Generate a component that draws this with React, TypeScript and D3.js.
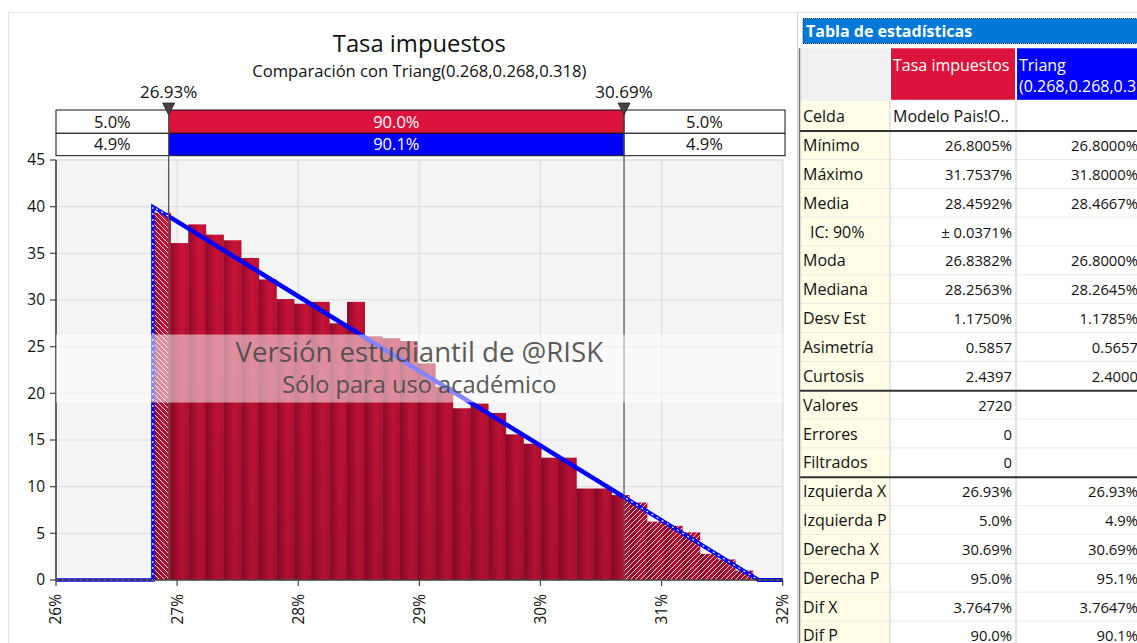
import React from 'react';
import * as d3 from 'd3';

// ---------- data ----------
const binValues = [
  39.35, 36.1, 38.1, 37.0, 36.4, 34.5, 32.2, 30.1, 29.6, 29.8, 27.5, 29.8,
  26.1, 25.9, 25.6, 23.2, 20.7, 18.4, 18.9, 17.9, 15.6, 14.6, 13.1, 13.1,
  9.8, 9.8, 9.1, 8.3, 6.25, 5.8, 5.1, 2.8, 2.2, 1.0,
];
const binMin = 0.268005;
const binMax = 0.317537;
const xTicks = [0.26, 0.27, 0.28, 0.29, 0.3, 0.31, 0.32];
const yTicks = [0, 5, 10, 15, 20, 25, 30, 35, 40, 45];
const fitLine: [number, number][] = [
  [0.26, 0], [0.268, 0], [0.268, 40], [0.318, 0], [0.32, 0],
];
const delimiters = [0.2693, 0.3069];
const delimiterLabels = ['26.93%', '30.69%'];
const simBand = ['5.0%', '90.0%', '5.0%'];
const fitBand = ['4.9%', '90.1%', '4.9%'];

const statLabels = [
  'Celda', 'Mínimo', 'Máximo', 'Media', 'IC: 90%', 'Moda', 'Mediana', 'Desv Est',
  'Asimetría', 'Curtosis', 'Valores', 'Errores', 'Filtrados', 'Izquierda X',
  'Izquierda P', 'Derecha X', 'Derecha P', 'Dif X', 'Dif P',
];
const simValues = [
  'Modelo Pais!O..', '26.8005%', '31.7537%', '28.4592%', '± 0.0371%', '26.8382%',
  '28.2563%', '1.1750%', '0.5857', '2.4397', '2720', '0', '0', '26.93%', '5.0%',
  '30.69%', '95.0%', '3.7647%', '90.0%',
];
const fitValues = [
  '', '26.8000%', '31.8000%', '28.4667%', '', '26.8000%', '28.2645%', '1.1785%',
  '0.5657', '2.4000', '', '', '', '26.93%', '4.9%', '30.69%', '95.1%', '3.7647%',
  '90.1%',
];
const groupBreaks = [0, 9, 12];

// ---------- layout ----------
const FONT = "'Segoe UI', 'Open Sans', sans-serif";
const W = 1137;
const H = 643;
const PL = 56;
const PR = 782.7;
const PT = 160;
const PB = 580;

export default function App() {
  const x = d3.scaleLinear().domain([0.26, 0.32]).range([PL, PR]);
  const y = d3.scaleLinear().domain([0, 45]).range([PB, PT]);
  const binW = (binMax - binMin) / binValues.length;
  const bins = binValues.map((v, i) => ({
    x0: binMin + i * binW,
    x1: binMin + (i + 1) * binW,
    v,
  }));
  const line = d3
    .line<[number, number]>()
    .x((d) => x(d[0]))
    .y((d) => y(d[1]));
  const linePath = line(fitLine) || '';
  const dl = x(delimiters[0]);
  const dr = x(delimiters[1]);

  // table geometry
  const c0 = 800, c1 = 890, c2 = 1016, c3 = 1141;
  const headTop = 48.3, headBot = 100.8;
  const celdaBot = 131;
  const rowH = 28.85;
  const rowTop = (i: number) => (i === 0 ? headBot : celdaBot + (i - 1) * rowH);
  const rowBot = (i: number) => (i === 0 ? celdaBot : celdaBot + i * rowH);

  const bandY0 = 110, bandY1 = 133.3, bandY2 = 155.7;
  const bandRight = 785;

  return (
    <div style={{ position: 'absolute', left: 0, top: 0 }}>
      <svg width={W} height={H} style={{ display: 'block', fontFamily: FONT }}>
        <defs>
          <linearGradient id="barGrad" x1="0" y1="0" x2="1" y2="0">
            <stop offset="0" stopColor="#980a2b" />
            <stop offset="0.6" stopColor="#d2143b" />
            <stop offset="1" stopColor="#c01032" />
          </linearGradient>
          <linearGradient id="shade" gradientUnits="userSpaceOnUse" x1="0" y1={PT} x2="0" y2={PB}>
            <stop offset="0" stopColor="#000" stopOpacity="0" />
            <stop offset="1" stopColor="#000" stopOpacity="0.16" />
          </linearGradient>
          <pattern id="hatchL" width="5" height="5" patternUnits="userSpaceOnUse">
            <path d="M-1,-1 L6,6 M-1,4 L1,6 M4,-1 L6,1" stroke="#fff" strokeWidth="1" opacity="0.85" />
          </pattern>
          <pattern id="hatchR" width="5" height="5" patternUnits="userSpaceOnUse">
            <path d="M-1,6 L6,-1 M-1,1 L1,-1 M4,6 L6,4" stroke="#fff" strokeWidth="1" opacity="0.85" />
          </pattern>
          <clipPath id="clipL">
            <rect x={PL} y={PT - 10} width={dl - PL} height={PB - PT + 12} />
          </clipPath>
          <clipPath id="clipR">
            <rect x={dr} y={PT - 10} width={PR + 10 - dr} height={PB - PT + 12} />
          </clipPath>
          <clipPath id="clipMid">
            <rect x={dl} y={PT - 10} width={dr - dl} height={PB - PT + 12} />
          </clipPath>
          <clipPath id="clipTable">
            <rect x={0} y={0} width={W} height={H} />
          </clipPath>
        </defs>

        <rect x={0} y={0} width={W} height={H} fill="#fff" />
        {/* panel borders */}
        <line x1={8.5} y1={12} x2={8.5} y2={H} stroke="#e6e6e6" />
        <line x1={8} y1={12.5} x2={797} y2={12.5} stroke="#e6e6e6" />
        <line x1={797.5} y1={12} x2={797.5} y2={H} stroke="#d4d4d4" />
        <line x1={797} y1={12.5} x2={W} y2={12.5} stroke="#e0e0e0" />

        {/* titles */}
        <text x={(PL + PR) / 2} y={52} textAnchor="middle" fontSize={23.8} fill="#111">
          Tasa impuestos
        </text>
        <text x={(PL + PR) / 2} y={77} textAnchor="middle" fontSize={16.6} fill="#111">
          Comparación con Triang(0.268,0.268,0.318)
        </text>

        {/* plot background and grid */}
        <rect x={PL} y={PT} width={PR - PL} height={PB - PT} fill="#f4f4f4" stroke="#d8d8d8" />
        {yTicks.map((t) => (
          <line key={'gy' + t} x1={PL} x2={PR} y1={y(t)} y2={y(t)} stroke="#dedede" strokeWidth={1.2} />
        ))}
        {xTicks.map((t) => (
          <line key={'gx' + t} x1={x(t)} x2={x(t)} y1={PT} y2={PB} stroke="#dedede" strokeWidth={1.2} />
        ))}

        {/* bars */}
        <g>
          {bins.map((b, i) => (
            <rect key={'b' + i} x={x(b.x0)} y={y(b.v)} width={x(b.x1) - x(b.x0) + 0.3}
              height={y(0) - y(b.v)} fill="url(#barGrad)" />
          ))}
          {bins.map((b, i) => (
            <rect key={'s' + i} x={x(b.x0)} y={y(b.v)} width={x(b.x1) - x(b.x0) + 0.3}
              height={y(0) - y(b.v)} fill="url(#shade)" />
          ))}
        </g>
        <g clipPath="url(#clipL)">
          {bins.map((b, i) => (
            <rect key={'hl' + i} x={x(b.x0)} y={y(b.v)} width={x(b.x1) - x(b.x0)}
              height={y(0) - y(b.v)} fill="url(#hatchL)" />
          ))}
        </g>
        <g clipPath="url(#clipR)">
          {bins.map((b, i) => (
            <rect key={'hr' + i} x={x(b.x0)} y={y(b.v)} width={x(b.x1) - x(b.x0)}
              height={y(0) - y(b.v)} fill="url(#hatchR)" />
          ))}
        </g>

        {/* fitted line: dashed outside, solid inside */}
        <g clipPath="url(#clipL)">
          <path d={linePath} fill="none" stroke="#0000ff" strokeWidth={3.5} />
          <path d={linePath} fill="none" stroke="#fff" strokeWidth={1.2} strokeDasharray="2,4" />
        </g>
        <g clipPath="url(#clipR)">
          <path d={linePath} fill="none" stroke="#0000ff" strokeWidth={4} />
          <path d={linePath} fill="none" stroke="#fff" strokeWidth={1.2} strokeDasharray="2,4" />
        </g>
        <g clipPath="url(#clipMid)">
          <path d={linePath} fill="none" stroke="#0000ff" strokeWidth={4.5} />
        </g>

        {/* axes */}
        <line x1={PL} x2={PL} y1={PT} y2={PB + 1} stroke="#444" strokeWidth={1.6} />
        <line x1={PL} x2={PR} y1={PB} y2={PB} stroke="#444" strokeWidth={1.6} />
        {yTicks.map((t) => (
          <g key={'ty' + t}>
            <line x1={PL - 6} x2={PL} y1={y(t)} y2={y(t)} stroke="#444" strokeWidth={1.2} />
            <text x={PL - 11} y={y(t)} dy="0.35em" textAnchor="end" fontSize={15.5} fill="#111">
              {t}
            </text>
          </g>
        ))}
        {xTicks.map((t) => (
          <g key={'tx' + t}>
            <line x1={x(t)} x2={x(t)} y1={PB} y2={PB + 6} stroke="#444" strokeWidth={1.2} />
            <text transform={`translate(${x(t)},${PB + 14}) rotate(-90)`} dy="0.35em"
              textAnchor="end" fontSize={15.5} fill="#111">
              {d3.format('.0%')(t)}
            </text>
          </g>
        ))}

        {/* delimiter band */}
        <rect x={PL} y={bandY0} width={dl - PL} height={bandY1 - bandY0} fill="#fff" stroke="#111" />
        <rect x={dl} y={bandY0} width={dr - dl} height={bandY1 - bandY0} fill="#dc143c" stroke="#111" />
        <rect x={dr} y={bandY0} width={bandRight - dr} height={bandY1 - bandY0} fill="#fff" stroke="#111" />
        <rect x={PL} y={bandY1} width={dl - PL} height={bandY2 - bandY1} fill="#fff" stroke="#111" />
        <rect x={dl} y={bandY1} width={dr - dl} height={bandY2 - bandY1} fill="#0000ff" stroke="#111" />
        <rect x={dr} y={bandY1} width={bandRight - dr} height={bandY2 - bandY1} fill="#fff" stroke="#111" />
        {[simBand, fitBand].map((row, r) => {
          const yc = r === 0 ? (bandY0 + bandY1) / 2 : (bandY1 + bandY2) / 2;
          const xs = [(PL + dl) / 2, (dl + dr) / 2, (dr + bandRight) / 2];
          return row.map((s, k) => (
            <text key={'band' + r + k} x={xs[k]} y={yc} dy="0.36em" textAnchor="middle"
              fontSize={16.5} fill={k === 1 ? '#fff' : '#111'}>
              {s}
            </text>
          ));
        })}

        {/* delimiter lines and markers */}
        {delimiters.map((d, i) => (
          <g key={'dl' + i}>
            <line x1={x(d)} x2={x(d)} y1={bandY0} y2={PB} stroke="#555" strokeWidth={1.3} />
            <path d={`M${x(d) - 6},${bandY0 - 7} L${x(d) + 6},${bandY0 - 7} L${x(d)},${bandY0 + 5} Z`}
              fill="#444" stroke="#222" strokeWidth={0.8} />
            <text x={x(d)} y={98} textAnchor="middle" fontSize={17} fill="#111">
              {delimiterLabels[i]}
            </text>
          </g>
        ))}

        {/* watermark */}
        <rect x={PL} y={334.5} width={PR - PL} height={68} fill="#fff" opacity={0.52} />
        <text x={(PL + PR) / 2} y={362} textAnchor="middle" fontSize={27.6} fill="#4a4a4a" opacity={0.9}>
          Versión estudiantil de @RISK
        </text>
        <text x={(PL + PR) / 2} y={393} textAnchor="middle" fontSize={23.6} fill="#4a4a4a" opacity={0.9}>
          Sólo para uso académico
        </text>

        {/* ---------- statistics table ---------- */}
        <g clipPath="url(#clipTable)">
          <rect x={803} y={18.5} width={345} height={25} fill="#0078d7" stroke="#222"
            strokeWidth={1} strokeDasharray="1,1" />
          <text x={806} y={37} fontSize={16} fontWeight="bold" fill="#fff">
            Tabla de estadísticas
          </text>

          {/* header */}
          <rect x={c0} y={headTop} width={c1 - c0 - 1} height={headBot - headTop} fill="#f0f0f0" />
          <rect x={c1 + 1} y={headTop} width={c2 - c1 - 2} height={headBot - headTop - 1} fill="#dc143c" />
          <rect x={c2 + 1} y={headTop} width={c3 - c2} height={headBot - headTop - 1} fill="#0000ff" />
          <text x={c1 + 3} y={71} fontSize={16} fill="#fff">Tasa impuestos</text>
          <text x={c2 + 3} y={71} fontSize={16} fill="#fff">Triang</text>
          <text x={c2 + 3} y={92} fontSize={16} fill="#fff">(0.268,0.268,0.318)</text>

          {statLabels.map((lab, i) => {
            const t = rowTop(i);
            const b = rowBot(i);
            const base = t + (b - t) / 2 + 5.6;
            return (
              <g key={'row' + i}>
                <rect x={c0} y={t} width={c1 - c0} height={b - t} fill="#fffde6" />
                <rect x={c1} y={t} width={c3 - c1} height={b - t} fill="#fff" />
                <line x1={c0} x2={c3} y1={b} y2={b} stroke="#e4e4e4" strokeWidth={1.5} />
                <text x={lab.startsWith('IC') ? c0 + 10 : c0 + 3} y={base} fontSize={16} fill="#111">
                  {lab}
                </text>
                <text x={i === 0 ? c1 + 3 : c2 - 4} y={base} fontSize={i === 0 ? 16 : 14.8} fill="#111"
                  textAnchor={i === 0 ? 'start' : 'end'}>
                  {simValues[i]}
                </text>
                <text x={1138} y={base} fontSize={14.8} fill="#111" textAnchor="end">
                  {fitValues[i]}
                </text>
              </g>
            );
          })}
          <line x1={c1} x2={c1} y1={headBot} y2={H} stroke="#dcdcdc" strokeWidth={1.5} />
          <line x1={c2} x2={c2} y1={headBot} y2={H} stroke="#dcdcdc" strokeWidth={1.5} />
          {groupBreaks.map((g) => (
            <line key={'gb' + g} x1={c0} x2={c3} y1={rowBot(g)} y2={rowBot(g)} stroke="#333" strokeWidth={2} />
          ))}
          <line x1={c0 - 0.5} x2={c0 - 0.5} y1={headTop} y2={H} stroke="#777" strokeWidth={1.5} />
        </g>
      </svg>
    </div>
  );
}
